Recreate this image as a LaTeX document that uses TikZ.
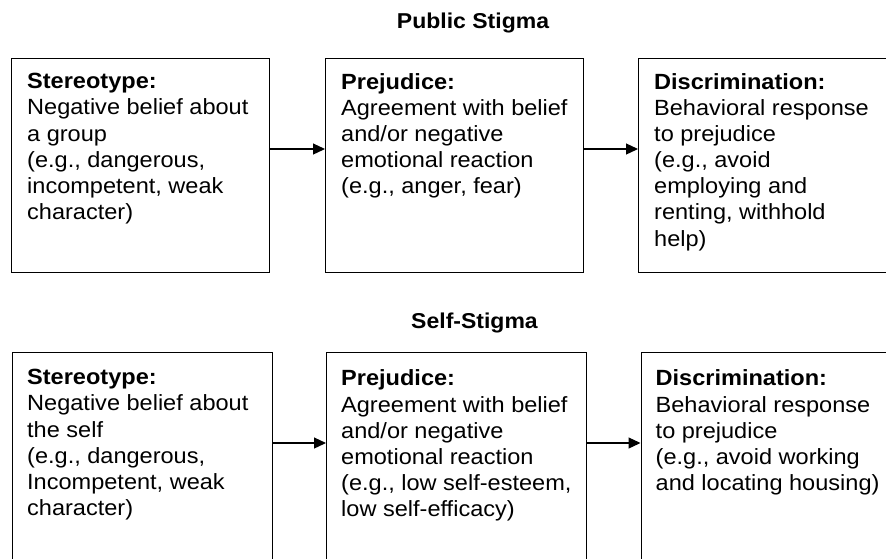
\documentclass[tikz,border=0pt]{standalone}
\usepackage{fontspec}
\setmainfont{Liberation Sans}[FakeStretch=1.07]
\usetikzlibrary{arrows.meta}
\begin{document}
\begin{tikzpicture}[x=1pt,y=1pt,
  box/.style={draw, line width=1.2pt, minimum height=214pt, inner sep=0pt, anchor=north west},
  toprow/.style={box, minimum width=258pt},
  botrow/.style={box, minimum width=259.5pt},
  txt/.style={anchor=north west, inner sep=0pt, align=left, font=\fontsize{22}{26.1}\selectfont},
  ttl/.style={anchor=base, inner sep=0pt, font=\fontsize{21.5}{26}\selectfont\bfseries},
  arr/.style={-{Triangle[length=12pt,width=11pt]}, line width=1.2pt}]
\useasboundingbox (0,0) rectangle (886,-558);
\clip (0,0) rectangle (886,-558);

% titles
\node[ttl] (pub) at (473,-28) {Public Stigma};
\node[ttl] (self) at (474.5,-328) {Self-Stigma};

% public stigma row
\node[toprow] (b1) at (11,-57.5) {};
\node[toprow] (b2) at (325,-57.5) {};
\node[toprow] (b3) at (638,-57.5) {};
\node[txt] (t1) at ([shift={(16,-15.8)}]b1.north west) {\textbf{Stereotype:}\\Negative belief about\\a group\\(e.g., dangerous,\\incompetent, weak\\character)};
\node[txt] (t2) at ([shift={(16,-15.8)}]b2.north west) {\textbf{Prejudice:}\\Agreement with belief\\and/or negative\\emotional reaction\\(e.g., anger, fear)};
\node[txt] (t3) at ([shift={(16,-15.8)}]b3.north west) {\textbf{Discrimination:}\\Behavioral response\\to prejudice\\(e.g., avoid\\employing and\\renting, withhold\\help)};
\draw[arr] (b1.east |- 0,-149) -- (b2.west |- 0,-149);
\draw[arr] (b2.east |- 0,-149) -- (b3.west |- 0,-149);

% self stigma row
\node[botrow] (c1) at (12,-351.5) {};
\node[botrow] (c2) at (326,-352) {};
\node[botrow] (c3) at (640.5,-352) {};
\node[txt] (s1) at ([shift={(15,-17.8)}]c1.north west) {\textbf{Stereotype:}\\Negative belief about\\the self\\(e.g., dangerous,\\Incompetent, weak\\character)};
\node[txt] (s2) at ([shift={(15,-17.8)}]c2.north west) {\textbf{Prejudice:}\\Agreement with belief\\and/or negative\\emotional reaction\\(e.g., low self-esteem,\\low self-efficacy)};
\node[txt] (s3) at ([shift={(15,-17.8)}]c3.north west) {\textbf{Discrimination:}\\Behavioral response\\to prejudice\\(e.g., avoid working\\and locating housing)};
\draw[arr] (c1.east |- 0,-443) -- (c2.west |- 0,-443);
\draw[arr] (c2.east |- 0,-443) -- (c3.west |- 0,-443);
\end{tikzpicture}
\end{document}
